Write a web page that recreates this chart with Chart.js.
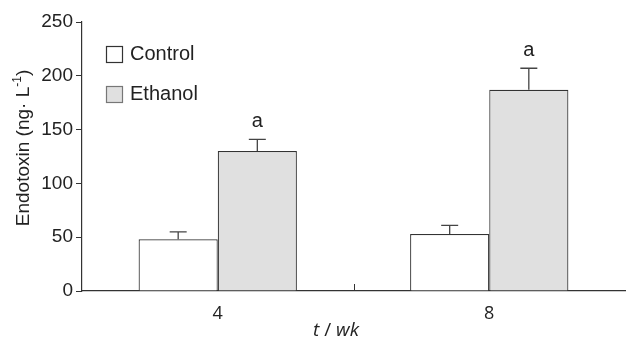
<!DOCTYPE html>
<html>
<head>
<meta charset="utf-8">
<script src="https://cdn.jsdelivr.net/npm/chart.js@4"></script>
<style>
  html, body { margin: 0; padding: 0; background: #fff; }
  #wrap { width: 626px; height: 341px; }
</style>
</head>
<body>
<div id="wrap"><canvas id="myChart"></canvas></div>
<script>
const weeks = ["4", "8"];
const seriesNames = ["Control", "Ethanol"];
const control = [48, 53];
const ethanol = [130, 187];
// upper end of the error bars
const controlErr = [55, 61];
const ethanolErr = [141, 207];
const marks = ["", "a"]; // per series, shown above each bar
const yTicks = [0, 50, 100, 150, 200, 250];
const yTitle = "Endotoxin (ng· L";
const yTitleSup = "-1";

const ink = "#222";
const sans = "'Liberation Sans', Arial, sans-serif";

// error bars, "a" marks, inward x tick, axis titles and legend boxes
const extras = {
    id: "extras",
    afterDatasetsDraw(chart) {
        const c = chart.ctx;
        const y = chart.scales.y;
        const x = chart.scales.x;
        const errs = [controlErr, ethanolErr];
        c.save();
        chart.data.datasets.forEach((ds, di) => {
            chart.getDatasetMeta(di).data.forEach((bar, i) => {
                const top = y.getPixelForValue(errs[di][i]);
                c.strokeStyle = "#444";
                c.lineWidth = 1.3;
                c.beginPath();
                c.moveTo(bar.x, bar.y);
                c.lineTo(bar.x, top);
                c.moveTo(bar.x - 8.5, top);
                c.lineTo(bar.x + 8.5, top);
                c.stroke();
                if (marks[di]) {
                    c.fillStyle = ink;
                    c.font = "20px " + sans;
                    c.textAlign = "center";
                    c.textBaseline = "alphabetic";
                    c.fillText(marks[di], bar.x, top - 12);
                }
            });
        });
        // tick between the groups, pointing up
        const mid = (x.getPixelForValue(0) + x.getPixelForValue(1)) / 2;
        c.strokeStyle = "#333";
        c.lineWidth = 1;
        c.beginPath();
        c.moveTo(Math.round(mid) + 0.5, y.bottom);
        c.lineTo(Math.round(mid) + 0.5, y.bottom - 7);
        c.stroke();

        // x axis title, "t" and "wk" in italics
        c.fillStyle = ink;
        c.textBaseline = "alphabetic";
        c.textAlign = "left";
        const parts = [["t", "italic "], [" / ", ""], ["wk", "italic "]];
        let tx = 313;
        parts.forEach(([s, st]) => {
            c.font = st + "19px 'Open Sans', sans-serif";
            c.fillText(s, tx, 336);
            tx += c.measureText(s).width;
        });

        // y axis title with superscript
        c.save();
        c.translate(29, 148);
        c.rotate(-Math.PI / 2);
        c.font = "19px " + sans;
        const w1 = c.measureText(yTitle).width;
        c.font = "12px " + sans;
        const w2 = c.measureText(yTitleSup).width;
        c.font = "19px " + sans;
        const w3 = c.measureText(")").width;
        let sx = -(w1 + w2 + w3) / 2;
        c.fillText(yTitle, sx, 0);
        sx += w1;
        c.font = "12px " + sans;
        c.fillText(yTitleSup, sx, -8);
        sx += w2;
        c.font = "19px " + sans;
        c.fillText(")", sx, 0);
        c.restore();

        // legend
        chart.data.datasets.forEach((ds, di) => {
            const bx = 106, by = 46 + di * 40;
            c.fillStyle = ds.backgroundColor;
            c.strokeStyle = di === 0 ? "#333" : "#777";
            c.lineWidth = 1.2;
            c.fillRect(bx, by, 16, 16);
            c.strokeRect(bx + 0.5, by + 0.5, 16, 16);
            c.fillStyle = ink;
            c.font = "20px " + sans;
            c.textAlign = "left";
            c.textBaseline = "middle";
            c.fillText(ds.label, 130, by + 8);
        });
        c.restore();
    }
};

const ctx = document.getElementById("myChart").getContext("2d");
const myChart = new Chart(ctx, {
    type: "bar",
    data: {
        labels: weeks,
        datasets: [{
            label: seriesNames[0],
            data: control,
            backgroundColor: "#ffffff",
            borderColor: "#333333",
            borderWidth: 1.2,
        }, {
            label: seriesNames[1],
            data: ethanol,
            backgroundColor: "#e0e0e0",
            borderColor: "#333333",
            borderWidth: 1.2,
        }],
    },
    options: {
        animation: false,
        responsive: true,
        maintainAspectRatio: false,
        layout: { padding: { top: 22, right: 1, left: 0, bottom: 0 } },
        datasets: { bar: { categoryPercentage: 0.583, barPercentage: 1 } },
        plugins: {
            legend: { display: false },
            tooltip: { enabled: false },
        },
        scales: {
            x: {
                grid: { display: false },
                border: { display: true, color: "#333", width: 1.2 },
                ticks: {
                    color: ink,
                    padding: 4,
                    font: { size: 18, family: "'Open Sans', sans-serif" },
                },
                afterFit(scale) { scale.height = 50; },
            },
            y: {
                min: 0,
                max: 250,
                afterBuildTicks(scale) { scale.ticks = yTicks.map(v => ({ value: v })); },
                grid: { drawOnChartArea: false, drawTicks: true, tickLength: 6, color: "#333" },
                border: { display: true, color: "#333", width: 1.2 },
                ticks: {
                    color: ink,
                    padding: 3,
                    font: { size: 19, family: sans },
                },
                afterFit(scale) { scale.width = 82; },
            },
        },
    },
    plugins: [extras],
});
</script>
</body>
</html>
